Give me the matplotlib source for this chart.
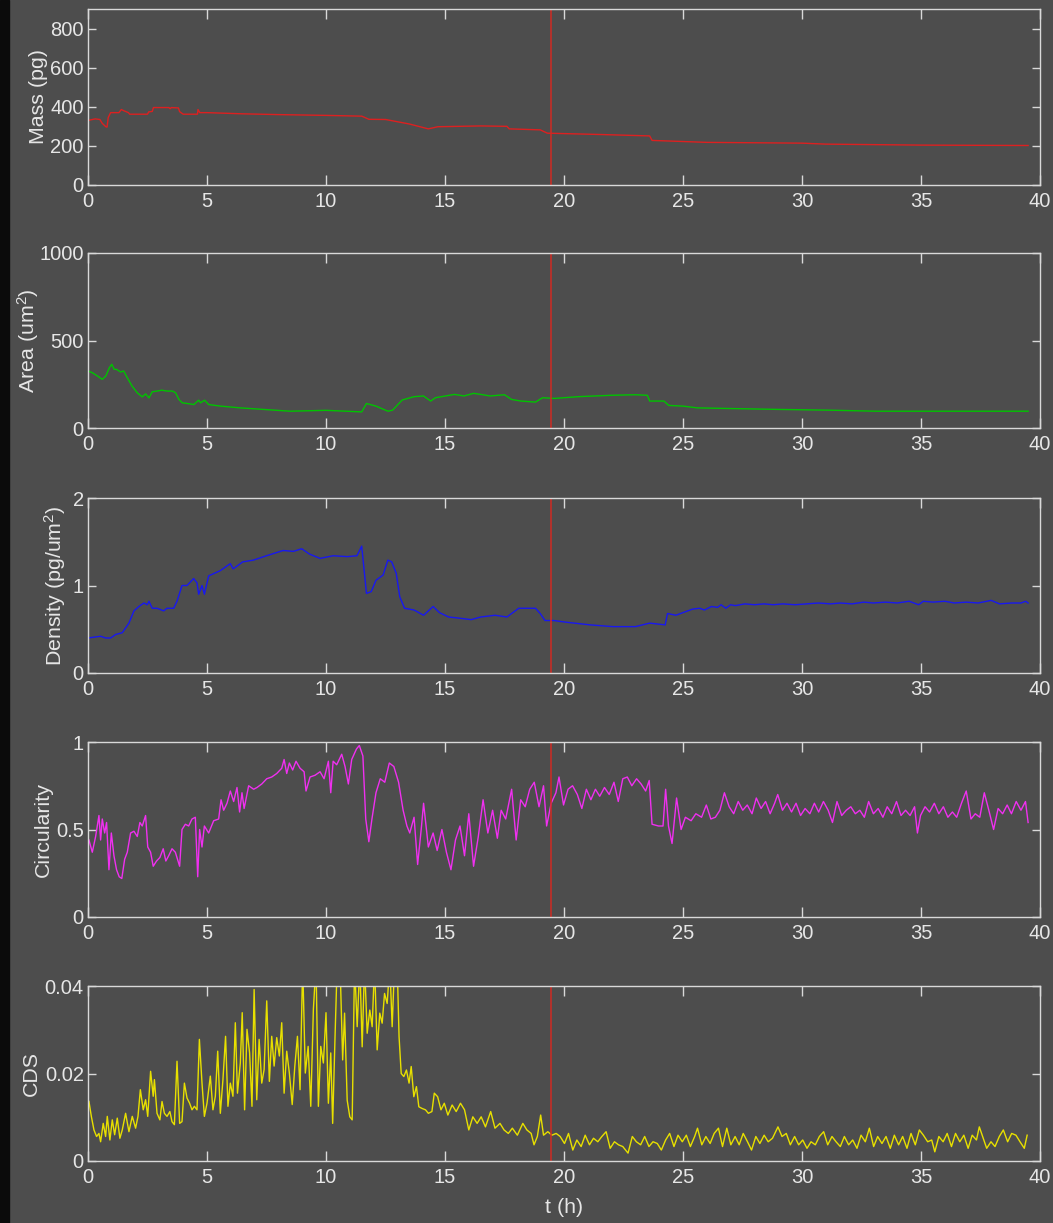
import matplotlib
matplotlib.use("Agg")
import matplotlib.pyplot as plt
from matplotlib.patches import Rectangle

plt.rcParams['font.family'] = ['Liberation Sans', 'DejaVu Sans']
plt.rcParams['mathtext.fontset'] = 'custom'
plt.rcParams['mathtext.rm'] = 'Liberation Sans'
plt.rcParams['mathtext.it'] = 'Liberation Sans'

# mass (pg)
mass_t = [0, 0.3, 0.5, 0.6, 0.75, 0.8, 0.85, 0.95, 1.3, 1.4,
          1.5, 1.7, 1.75, 2.5, 2.55, 2.7, 2.75, 3.4, 3.45, 3.5,
          3.8, 3.85, 4.0, 4.6, 4.62, 4.7, 5.0, 5.5, 6.5, 8,
          10, 11.5, 11.6, 11.8, 12.5, 13.5, 14.3, 14.7, 16.5, 17.6,
          17.7, 19.0, 19.3, 21.6, 23.6, 23.7, 26, 30, 31, 35,
          39.5]
mass_v = [330, 338, 335, 315, 298, 296, 345, 370, 370, 386,
          380, 370, 362, 362, 374, 376, 396, 396, 390, 396,
          394, 375, 362, 362, 386, 370, 370, 368, 364, 360,
          356, 352, 347, 336, 335, 312, 287, 298, 302, 300,
          287, 282, 265, 258, 251, 228, 218, 214, 209, 204,
          202]

# area (um^2)
area_t = [0, 0.18, 0.4, 0.6, 0.75, 0.9, 1.0, 1.1, 1.2, 1.37,
          1.5, 1.65, 1.85, 2.07, 2.28, 2.42, 2.56, 2.7, 2.9, 3.1,
          3.33, 3.55, 3.68, 3.82, 3.96, 4.17, 4.45, 4.65, 4.73, 4.9,
          5.07, 5.57, 6.4, 7.5, 8.5, 10, 11.5, 11.7, 12.1, 12.6,
          12.8, 13.2, 13.7, 14.1, 14.2, 14.4, 14.6, 15.4, 15.8, 16.2,
          16.5, 16.9, 17.5, 17.8, 18.2, 18.8, 19.1, 19.6, 20.6, 22.0,
          23.0, 23.5, 23.6, 24.2, 24.4, 25.0, 25.6, 27.1, 29.1, 31.1,
          33.1, 35.1, 37.1, 39.5]
area_v = [326, 316, 297, 278, 297, 345, 364, 335, 335, 320,
          326, 287, 240, 201, 178, 195, 172, 207, 211, 216,
          211, 211, 201, 163, 144, 140, 134, 159, 144, 159,
          134, 125, 115, 105, 96, 101, 92, 140, 125, 96,
          102, 160, 179, 183, 173, 154, 173, 192, 183, 198,
          192, 183, 190, 163, 154, 148, 173, 169, 179, 187,
          190, 187, 154, 154, 129, 125, 115, 111, 106, 102,
          96, 96, 96, 96]

# density (pg/um^2)
dens_t = [0, 0.53, 0.74, 0.95, 1.16, 1.44, 1.72, 1.93, 2.14, 2.35,
          2.49, 2.56, 2.7, 2.9, 3.18, 3.32, 3.6, 3.74, 3.95, 4.16,
          4.44, 4.58, 4.65, 4.79, 4.89, 5.07, 5.56, 5.98, 6.1, 6.5,
          6.95, 7.5, 8.2, 8.63, 8.98, 9.3, 9.75, 10.3, 10.9, 11.3,
          11.5, 11.7, 11.9, 12.1, 12.4, 12.6, 12.76, 12.95, 13.1, 13.3,
          13.7, 14.1, 14.5, 14.77, 15.15, 15.5, 16.1, 16.5, 17.1, 17.6,
          18.1, 18.8, 19.0, 19.2, 19.56, 20.1, 21.1, 22.05, 23.0, 23.6,
          24.25, 24.35, 24.7, 25.1, 25.4, 25.7, 25.9, 26.2, 26.45, 26.6,
          26.8, 27.0, 27.2, 27.6, 28.0, 28.4, 28.8, 29.2, 29.7, 30.2,
          30.7, 31.2, 31.6, 32.1, 32.6, 33.0, 33.5, 34.0, 34.5, 34.9,
          35.1, 35.5, 36.0, 36.4, 36.9, 37.4, 37.95, 38.3, 38.8, 39.2,
          39.4, 39.5]
dens_v = [0.40, 0.42, 0.40, 0.40, 0.44, 0.46, 0.57, 0.71, 0.76, 0.80,
          0.78, 0.82, 0.74, 0.74, 0.71, 0.74, 0.74, 0.82, 1.00, 1.00,
          1.08, 1.03, 0.90, 1.00, 0.90, 1.11, 1.17, 1.25, 1.19, 1.27,
          1.29, 1.34, 1.40, 1.39, 1.42, 1.36, 1.31, 1.34, 1.33, 1.34,
          1.45, 0.91, 0.93, 1.06, 1.12, 1.29, 1.27, 1.14, 0.87, 0.74,
          0.72, 0.66, 0.76, 0.69, 0.64, 0.63, 0.61, 0.64, 0.66, 0.64,
          0.74, 0.74, 0.68, 0.60, 0.60, 0.58, 0.55, 0.53, 0.53, 0.57,
          0.55, 0.68, 0.66, 0.70, 0.73, 0.74, 0.72, 0.76, 0.75, 0.78,
          0.74, 0.78, 0.77, 0.79, 0.78, 0.79, 0.78, 0.79, 0.78, 0.79,
          0.80, 0.79, 0.80, 0.79, 0.81, 0.80, 0.81, 0.80, 0.82, 0.78,
          0.82, 0.81, 0.82, 0.80, 0.81, 0.80, 0.83, 0.79, 0.80, 0.80,
          0.82, 0.80]

# circularity, first part (0 - 11.4 h)
circ_t1 = [0.04, 0.18, 0.32, 0.46, 0.53, 0.6, 0.7, 0.78, 0.88, 0.98,
           1.09, 1.2, 1.31, 1.42, 1.54, 1.65, 1.79, 1.93, 2.07, 2.18,
           2.28, 2.42, 2.51, 2.63, 2.74, 2.88, 3.02, 3.16, 3.27, 3.39,
           3.53, 3.67, 3.85, 3.95, 4.09, 4.23, 4.37, 4.51, 4.61, 4.69,
           4.79, 4.89, 5.07, 5.28, 5.49, 5.59, 5.7, 5.84, 5.98, 6.12,
           6.26, 6.37, 6.47, 6.56, 6.75, 6.96, 7.1, 7.3, 7.51, 7.72,
           7.93, 8.14, 8.24, 8.35, 8.46, 8.6, 8.74, 8.91, 9.08, 9.16,
           9.33, 9.54, 9.75, 9.92, 10.1, 10.2, 10.3, 10.45, 10.66, 10.8,
           10.94, 11.08, 11.28, 11.4]
circ_v1 = [0.44, 0.37, 0.46, 0.58, 0.44, 0.56, 0.48, 0.54, 0.27, 0.48,
           0.35, 0.27, 0.23, 0.22, 0.33, 0.37, 0.48, 0.49, 0.46, 0.54,
           0.52, 0.58, 0.40, 0.37, 0.29, 0.32, 0.34, 0.39, 0.32, 0.35,
           0.39, 0.37, 0.29, 0.50, 0.53, 0.52, 0.56, 0.57, 0.23, 0.50,
           0.40, 0.52, 0.48, 0.55, 0.56, 0.67, 0.61, 0.65, 0.72, 0.66,
           0.74, 0.60, 0.71, 0.62, 0.75, 0.73, 0.74, 0.76, 0.79, 0.80,
           0.82, 0.85, 0.90, 0.82, 0.88, 0.84, 0.89, 0.85, 0.83, 0.72,
           0.80, 0.81, 0.83, 0.79, 0.89, 0.71, 0.89, 0.87, 0.93, 0.86,
           0.76, 0.90, 0.96, 0.98]
# circularity, second part (11.5 - 39.5 h)
circ_t2 = [11.55, 11.67, 11.8, 11.93, 12.1, 12.28, 12.47, 12.66, 12.85, 13.05,
           13.24, 13.4, 13.52, 13.7, 13.85, 14.0, 14.1, 14.3, 14.5, 14.67,
           14.87, 15.06, 15.25, 15.44, 15.63, 15.82, 16.0, 16.2, 16.4, 16.6,
           16.8, 17.0, 17.2, 17.36, 17.55, 17.8, 17.99, 18.18, 18.37, 18.56,
           18.75, 18.95, 19.14, 19.27, 19.46, 19.66, 19.79, 19.98, 20.17, 20.36,
           20.56, 20.75, 20.94, 21.13, 21.32, 21.5, 21.7, 21.9, 22.1, 22.28,
           22.47, 22.66, 22.85, 23.05, 23.24, 23.43, 23.58, 23.7, 23.97, 24.16,
           24.27, 24.39, 24.54, 24.73, 24.92, 25.1, 25.34, 25.54, 25.78, 25.98,
           26.17, 26.36, 26.55, 26.74, 26.94, 27.13, 27.32, 27.51, 27.7, 27.9,
           28.08, 28.28, 28.47, 28.66, 28.85, 28.98, 29.18, 29.37, 29.56, 29.75,
           29.94, 30.13, 30.33, 30.52, 30.7, 30.9, 31.1, 31.28, 31.47, 31.67,
           31.86, 32.05, 32.24, 32.43, 32.62, 32.8, 33.0, 33.2, 33.4, 33.58,
           33.77, 33.97, 34.16, 34.35, 34.54, 34.73, 34.85, 34.98, 35.17, 35.36,
           35.56, 35.75, 35.94, 36.13, 36.32, 36.5, 36.7, 36.9, 37.1, 37.28,
           37.47, 37.66, 37.85, 38.05, 38.24, 38.43, 38.62, 38.8, 39.0, 39.2,
           39.39, 39.5]
circ_v2 = [0.92, 0.56, 0.43, 0.56, 0.71, 0.79, 0.77, 0.88, 0.86, 0.77,
           0.61, 0.52, 0.48, 0.57, 0.30, 0.50, 0.65, 0.40, 0.48, 0.38,
           0.50, 0.37, 0.27, 0.44, 0.52, 0.35, 0.59, 0.29, 0.46, 0.67,
           0.48, 0.61, 0.45, 0.61, 0.56, 0.73, 0.44, 0.67, 0.63, 0.73,
           0.77, 0.63, 0.75, 0.52, 0.65, 0.71, 0.80, 0.64, 0.73, 0.75,
           0.70, 0.62, 0.73, 0.67, 0.73, 0.69, 0.74, 0.70, 0.77, 0.66,
           0.79, 0.80, 0.75, 0.79, 0.76, 0.72, 0.78, 0.53, 0.52, 0.52,
           0.73, 0.52, 0.42, 0.68, 0.50, 0.57, 0.55, 0.59, 0.57, 0.64,
           0.56, 0.57, 0.61, 0.71, 0.63, 0.59, 0.66, 0.61, 0.64, 0.59,
           0.68, 0.62, 0.66, 0.59, 0.65, 0.70, 0.61, 0.65, 0.60, 0.65,
           0.58, 0.62, 0.59, 0.65, 0.60, 0.66, 0.61, 0.54, 0.66, 0.58,
           0.61, 0.63, 0.59, 0.61, 0.57, 0.66, 0.59, 0.62, 0.57, 0.63,
           0.59, 0.66, 0.58, 0.61, 0.58, 0.63, 0.48, 0.58, 0.63, 0.60,
           0.65, 0.59, 0.63, 0.57, 0.60, 0.57, 0.65, 0.72, 0.56, 0.59,
           0.57, 0.71, 0.61, 0.50, 0.62, 0.59, 0.64, 0.59, 0.66, 0.61,
           0.66, 0.54]

# CDS, three stretches (values above 0.04 are cut off by the axis)
cds_t1 = [0.04, 0.14, 0.25, 0.36, 0.46, 0.53, 0.64, 0.74, 0.81, 0.92,
          1.02, 1.12, 1.23, 1.34, 1.44, 1.58, 1.72, 1.86, 2.0, 2.1,
          2.2, 2.32, 2.42, 2.51, 2.63, 2.74, 2.79, 2.9, 3.02, 3.11,
          3.21, 3.32, 3.44, 3.53, 3.63, 3.74, 3.85, 3.95, 4.05, 4.16,
          4.27, 4.37, 4.47, 4.58, 4.68, 4.79, 4.89, 5.0, 5.14, 5.25,
          5.35, 5.45, 5.56, 5.67, 5.78, 5.88, 5.98, 6.09, 6.19, 6.28,
          6.4, 6.48, 6.58, 6.68, 6.79, 6.89, 6.98, 7.09, 7.19, 7.3,
          7.4, 7.51, 7.62, 7.72, 7.82, 7.93, 8.04, 8.14, 8.24, 8.35,
          8.46, 8.58, 8.69, 8.8, 8.91, 9.02, 9.13, 9.25, 9.36, 9.47,
          9.58, 9.68, 9.78, 9.89, 10.0, 10.1, 10.2, 10.28, 10.38, 10.47]
cds_v1 = [0.0136, 0.0102, 0.0071, 0.0056, 0.0063, 0.0044, 0.0086, 0.0056, 0.0102, 0.0048,
          0.0094, 0.0060, 0.0098, 0.0052, 0.0071, 0.0109, 0.0067, 0.0102, 0.0075, 0.0102,
          0.0163, 0.0117, 0.0140, 0.0102, 0.0205, 0.0148, 0.0186, 0.0109, 0.0094, 0.0136,
          0.0109, 0.0102, 0.0113, 0.0090, 0.0083, 0.0228, 0.0086, 0.0090, 0.0178, 0.0144,
          0.0132, 0.0117, 0.0125, 0.0117, 0.0278, 0.0178, 0.0102, 0.0132, 0.0194, 0.0117,
          0.0148, 0.0251, 0.0109, 0.0186, 0.0285, 0.0125, 0.0178, 0.0148, 0.0316, 0.0155,
          0.0224, 0.0339, 0.0117, 0.0301, 0.0247, 0.0125, 0.0392, 0.0140, 0.0278, 0.0178,
          0.0209, 0.0366, 0.0182, 0.0285, 0.0217, 0.0282, 0.0240, 0.0316, 0.0155, 0.0251,
          0.0201, 0.0129, 0.0217, 0.0285, 0.0163, 0.0450, 0.0201, 0.0262, 0.0125, 0.0347,
          0.0450, 0.0125, 0.0262, 0.0224, 0.0339, 0.0132, 0.0247, 0.0086, 0.0285, 0.0450]
cds_t2 = [10.59, 10.7, 10.78, 10.89, 11.0, 11.1, 11.2, 11.31, 11.42, 11.52,
          11.62, 11.73, 11.84, 11.94, 12.04, 12.15, 12.26, 12.36, 12.46, 12.57,
          12.68, 12.78, 12.88, 12.99, 13.07]
cds_v2 = [0.0450, 0.0231, 0.0338, 0.0139, 0.0101, 0.0094, 0.0450, 0.0307, 0.0450, 0.0261,
          0.0450, 0.0292, 0.0345, 0.0307, 0.0450, 0.0254, 0.0338, 0.0315, 0.0383, 0.0360,
          0.0450, 0.0307, 0.0450, 0.0450, 0.0284]
cds_t3 = [13.16, 13.27, 13.38, 13.49, 13.58, 13.69, 13.8, 13.9, 14.04, 14.18,
          14.3, 14.45, 14.55, 14.69, 14.83, 14.97, 15.12, 15.3, 15.47, 15.65,
          15.82, 16.0, 16.17, 16.35, 16.52, 16.7, 16.92, 17.1, 17.31, 17.48,
          17.66, 17.83, 18.04, 18.27, 18.44, 18.62, 18.74, 18.88, 19.02, 19.14,
          19.32, 19.49, 19.67, 19.84, 20.02, 20.19, 20.37, 20.54, 20.72, 20.89,
          21.07, 21.24, 21.42, 21.59, 21.77, 21.94, 22.12, 22.29, 22.47, 22.69,
          22.87, 23.04, 23.22, 23.39, 23.57, 23.74, 23.92, 24.09, 24.27, 24.44,
          24.62, 24.79, 24.97, 25.14, 25.31, 25.49, 25.61, 25.79, 25.96, 26.14,
          26.31, 26.49, 26.66, 26.84, 27.01, 27.19, 27.36, 27.53, 27.71, 27.88,
          28.06, 28.23, 28.41, 28.58, 28.76, 28.99, 29.16, 29.34, 29.51, 29.69,
          29.86, 30.03, 30.21, 30.38, 30.56, 30.73, 30.91, 31.08, 31.26, 31.43,
          31.61, 31.78, 31.96, 32.13, 32.31, 32.48, 32.66, 32.83, 33.01, 33.18,
          33.36, 33.53, 33.71, 33.88, 34.06, 34.23, 34.41, 34.58, 34.76, 34.93,
          35.1, 35.28, 35.45, 35.58, 35.75, 35.93, 36.1, 36.28, 36.45, 36.63,
          36.8, 36.98, 37.15, 37.33, 37.45, 37.59, 37.76, 37.94, 38.11, 38.29,
          38.46, 38.64, 38.81, 38.99, 39.16, 39.34, 39.46]
cds_v3 = [0.0200, 0.0193, 0.0208, 0.0178, 0.0216, 0.0147, 0.0170, 0.0124, 0.0120, 0.0117,
          0.0109, 0.0113, 0.0155, 0.0147, 0.0117, 0.0132, 0.0105, 0.0128, 0.0113, 0.0132,
          0.0117, 0.0071, 0.0101, 0.0086, 0.0101, 0.0078, 0.0113, 0.0075, 0.0086, 0.0071,
          0.0063, 0.0075, 0.0059, 0.0086, 0.0071, 0.0063, 0.0037, 0.0056, 0.0105, 0.0059,
          0.0067, 0.0059, 0.0063, 0.0056, 0.0040, 0.0063, 0.0025, 0.0048, 0.0033, 0.0059,
          0.0037, 0.0052, 0.0044, 0.0056, 0.0067, 0.0029, 0.0044, 0.0037, 0.0033, 0.0018,
          0.0056, 0.0044, 0.0037, 0.0056, 0.0033, 0.0044, 0.0040, 0.0025, 0.0048, 0.0063,
          0.0033, 0.0059, 0.0044, 0.0059, 0.0033, 0.0056, 0.0075, 0.0037, 0.0056, 0.0040,
          0.0063, 0.0075, 0.0033, 0.0075, 0.0037, 0.0056, 0.0037, 0.0063, 0.0044, 0.0025,
          0.0056, 0.0040, 0.0059, 0.0044, 0.0052, 0.0078, 0.0056, 0.0063, 0.0037, 0.0056,
          0.0037, 0.0048, 0.0029, 0.0044, 0.0037, 0.0056, 0.0067, 0.0037, 0.0056, 0.0044,
          0.0033, 0.0056, 0.0037, 0.0048, 0.0029, 0.0059, 0.0044, 0.0075, 0.0033, 0.0056,
          0.0040, 0.0056, 0.0029, 0.0059, 0.0037, 0.0056, 0.0029, 0.0063, 0.0037, 0.0071,
          0.0059, 0.0044, 0.0048, 0.0021, 0.0056, 0.0044, 0.0063, 0.0033, 0.0063, 0.0044,
          0.0059, 0.0029, 0.0059, 0.0048, 0.0078, 0.0056, 0.0029, 0.0044, 0.0033, 0.0056,
          0.0071, 0.0044, 0.0063, 0.0059, 0.0044, 0.0029, 0.0059]

marker_time = 19.45  # red vertical line
x_ticks = [0, 5, 10, 15, 20, 25, 30, 35, 40]

bg = '#4d4d4d'
fg = '#e6e6e6'
edge = '#d9d9d9'

fig = plt.figure(figsize=(10.53, 12.23), dpi=100, facecolor=bg)
fig.patches.append(Rectangle((0, 0), 9 / 1053, 1, transform=fig.transFigure,
                             color='#0b0b0b', zorder=0))

# axes boxes: [top_px, bottom_px] in the 1053x1223 picture
boxes = [(9, 185), (253, 428), (498, 673), (742, 917), (986, 1161)]
panels = [
    (mass_t, mass_v, '#dd2020', 'Mass (pg)', (0, 900), [0, 200, 400, 600, 800], None, -0.042),
    (area_t, area_v, '#00c400', 'Area (um$^2$)', (0, 1000), [0, 500, 1000], None, -0.049),
    (dens_t, dens_v, '#1818f0', 'Density (pg/um$^2$)', (0, 2), [0, 1, 2], None, -0.021),
    (circ_t1 + circ_t2, circ_v1 + circ_v2, '#f030f0', 'Circularity', (0, 1), [0, 0.5, 1],
     ['0', '0.5', '1'], -0.037),
    (cds_t1 + cds_t2 + cds_t3, cds_v1 + cds_v2 + cds_v3, '#e8e000', 'CDS', (0, 0.04),
     [0, 0.02, 0.04], ['0', '0.02', '0.04'], -0.049),
]

for (top, bot), (tt, vv, col, lab, ylim, yt, ytl, lx) in zip(boxes, panels):
    ax = fig.add_axes([88 / 1053, 1 - bot / 1223, 952 / 1053, (bot - top) / 1223])
    ax.set_facecolor(bg)
    ax.plot(tt, vv, color=col, lw=1.0)
    ax.axvline(marker_time, color='#d02a22', lw=1.1)
    ax.set_xlim(0, 40)
    ax.set_ylim(*ylim)
    ax.set_xticks(x_ticks)
    ax.set_yticks(yt)
    if ytl is not None:
        ax.set_yticklabels(ytl)
    for s in ax.spines.values():
        s.set_color(edge)
        s.set_linewidth(1.0)
    ax.tick_params(axis='x', direction='in', top=True, length=7, width=1,
                   color=edge, labelcolor=fg, labelsize=14.5, pad=5)
    ax.tick_params(axis='y', direction='in', right=True, length=5.5, width=1,
                   color=edge, labelcolor=fg, labelsize=14.5, pad=3)
    ax.set_ylabel(lab, color=fg, fontsize=15.4)
    ax.yaxis.set_label_coords(lx, 0.5)

ax.set_xlabel('t (h)', color=fg, fontsize=15.4, labelpad=8)

fig.savefig('out.png', dpi=100, facecolor=bg)
